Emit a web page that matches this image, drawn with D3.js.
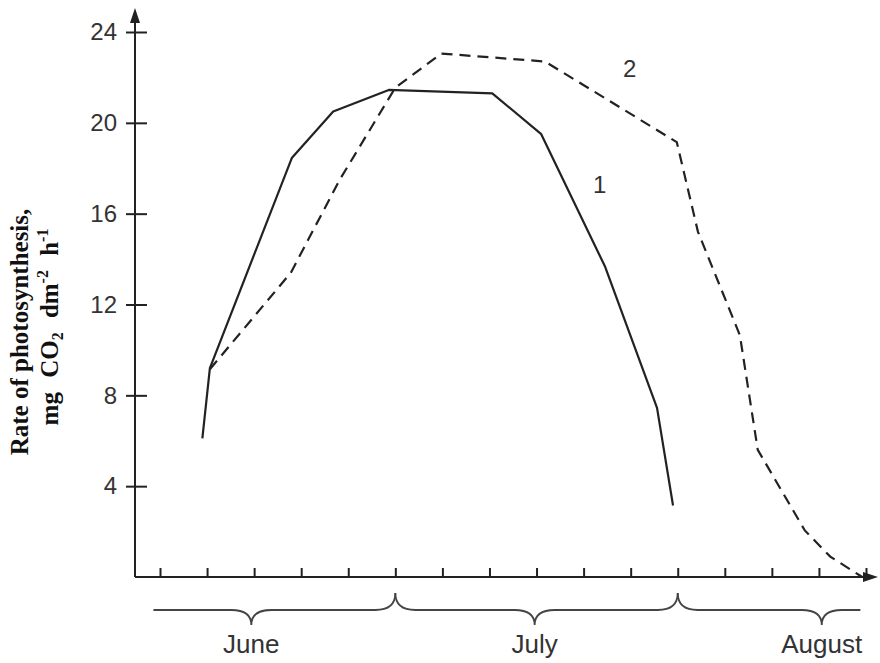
<!DOCTYPE html>
<html>
<head>
<meta charset="utf-8">
<script src="https://cdn.jsdelivr.net/npm/d3@7"></script>
<style>
  body { margin: 0; background: #fff; }
</style>
</head>
<body>
<div id="chart"></div>
<script>
// days counted from 1 June; rate in mg CO2 dm-2 h-1
const days1 = [9.5, 10.3, 19.0, 23.4, 29.3, 40.3, 45.5, 52.3, 57.8, 59.5];
const rate1 = [6.1, 9.2, 18.45, 20.5, 21.45, 21.3, 19.5, 13.65, 7.45, 3.15];

const days2 = [10.3, 18.9, 24.1, 30.0, 34.9, 45.9, 59.9, 62.15, 66.6, 68.5, 73.5, 76.2, 79.6];
const rate2 = [9.15, 13.4, 17.5, 21.55, 23.05, 22.7, 19.15, 15.2, 10.65, 5.6, 2.05, 0.9, 0];

const yTicks = [4, 8, 12, 16, 20, 24];
const xTicks = d3.range(5, 81, 5);

const months = ["June", "July", "August"];
const monthFrom = [4.3, 30, 60];
const monthTo = [30, 60, 79.4];
const monthTip = [14.7, 44.8, 75.3];

const seriesNames = ["1", "2"];
const labelDay = [51.7, 54.9];
const labelRate = [17.3, 22.4];

const width = 880;
const height = 663;

const x = d3.scaleLinear().domain([5, 80]).range([160, 866]);
const y = d3.scaleLinear().domain([0, 24]).range([577, 32]);

const ink = "#222";
const textInk = "#333";

const svg = d3.select("#chart").append("svg")
    .attr("width", width)
    .attr("height", height)
    .attr("viewBox", [0, 0, width, height]);

const x0 = 135;          // where the y axis stands
const xEnd = 878;        // tip of the x arrow
const yTop = 8;          // tip of the y arrow

// axis lines with arrow heads
svg.append("line")
    .attr("x1", x0).attr("x2", x0)
    .attr("y1", y(0)).attr("y2", yTop + 10)
    .attr("stroke", ink).attr("stroke-width", 2);
svg.append("path")
    .attr("d", `M${x0},${yTop} L${x0 - 5},${yTop + 15} L${x0 + 5},${yTop + 15} Z`)
    .attr("fill", ink);

svg.append("line")
    .attr("x1", x0).attr("x2", xEnd - 10)
    .attr("y1", y(0)).attr("y2", y(0))
    .attr("stroke", ink).attr("stroke-width", 2);
svg.append("path")
    .attr("d", `M${xEnd},${y(0)} L${xEnd - 15},${y(0) - 5} L${xEnd - 15},${y(0) + 5} Z`)
    .attr("fill", ink);

// y ticks cross the axis
svg.append("g")
    .attr("transform", `translate(${x0},0)`)
    .call(d3.axisLeft(y).tickValues(yTicks).tickSize(9).tickPadding(9))
    .call(g => g.select(".domain").remove())
    .call(g => g.selectAll(".tick line").attr("x1", 12).attr("stroke", ink).attr("stroke-width", 2))
    .call(g => g.selectAll(".tick text")
        .attr("fill", textInk)
        .attr("font-family", "'Liberation Sans', Arial, sans-serif")
        .attr("font-size", 24));

// x ticks point up, no labels
svg.append("g")
    .attr("transform", `translate(0,${y(0)})`)
    .call(d3.axisTop(x).tickValues(xTicks).tickSize(9).tickFormat(""))
    .call(g => g.select(".domain").remove())
    .call(g => g.selectAll(".tick line").attr("stroke", ink).attr("stroke-width", 2));

// curves
const line = d3.line()
    .x(d => x(d[0]))
    .y(d => y(d[1]));

svg.append("path")
    .datum(days1.map((d, i) => [d, rate1[i]]))
    .attr("d", line)
    .attr("fill", "none")
    .attr("stroke", ink)
    .attr("stroke-width", 2.2)
    .attr("stroke-linejoin", "round");

svg.append("path")
    .datum(days2.map((d, i) => [d, rate2[i]]))
    .attr("d", line)
    .attr("fill", "none")
    .attr("stroke", ink)
    .attr("stroke-width", 2.2)
    .attr("stroke-dasharray", "11,7");

svg.append("g")
    .selectAll("text")
    .data(seriesNames)
    .join("text")
    .attr("x", (d, i) => x(labelDay[i]))
    .attr("y", (d, i) => y(labelRate[i]))
    .attr("dy", "0.35em")
    .attr("text-anchor", "middle")
    .attr("fill", textInk)
    .attr("font-family", "'Liberation Sans', Arial, sans-serif")
    .attr("font-size", 24)
    .text(d => d);

// month braces
const by = 610;
const w = 20;
function bracePath(i) {
    const a = x(monthFrom[i]), b = x(monthTo[i]), t = x(monthTip[i]);
    let p = "";
    if (i === 0) p += `M${a},${by}`;
    else p += `M${a},${by - 17} Q${a},${by} ${a + w},${by}`;
    p += ` L${t - w},${by} Q${t},${by} ${t},${by + 15} Q${t},${by} ${t + w},${by}`;
    if (i === months.length - 1) p += ` L${b},${by}`;
    else p += ` L${b - w},${by} Q${b},${by} ${b},${by - 17}`;
    return p;
}

svg.append("g")
    .selectAll("path")
    .data(months)
    .join("path")
    .attr("d", (d, i) => bracePath(i))
    .attr("fill", "none")
    .attr("stroke", "#444")
    .attr("stroke-width", 1.8);

svg.append("g")
    .selectAll("text")
    .data(months)
    .join("text")
    .attr("x", (d, i) => x(monthTip[i]))
    .attr("y", 653)
    .attr("text-anchor", "middle")
    .attr("fill", textInk)
    .attr("font-family", "'Liberation Sans', Arial, sans-serif")
    .attr("font-size", 26)
    .text(d => d);

// y axis title, two lines
const title = svg.append("g")
    .attr("font-family", "'Liberation Serif', 'Times New Roman', serif")
    .attr("font-weight", "bold")
    .attr("font-size", 25)
    .attr("fill", "#111")
    .attr("text-anchor", "middle");

title.append("text")
    .attr("transform", "translate(28,332) rotate(-90)")
    .text("Rate of photosynthesis,");

const t2 = title.append("text")
    .attr("transform", "translate(58,327) rotate(-90)")
    .attr("word-spacing", 8);
t2.append("tspan").text("mg CO");
t2.append("tspan").attr("font-size", 16).attr("dy", 5).text("2");
t2.append("tspan").attr("dy", -5).text(" dm");
t2.append("tspan").attr("font-size", 16).attr("dy", -10).text("-2");
t2.append("tspan").attr("dy", 10).text(" h");
t2.append("tspan").attr("font-size", 16).attr("dy", -10).text("-1");
</script>
</body>
</html>
